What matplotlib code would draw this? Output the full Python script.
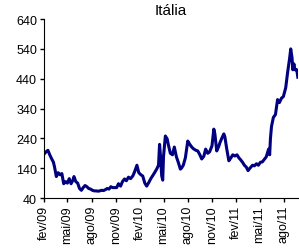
import matplotlib
matplotlib.use("Agg")
import matplotlib.pyplot as plt
import pandas as pd

plt.rcParams['font.family'] = ['Liberation Sans', 'DejaVu Sans']

# Itália - spread (pontos base), leitura aproximada do gráfico
dates = [
    "2009-02-02", "2009-02-09", "2009-02-16", "2009-02-23", "2009-03-02", "2009-03-09",
    "2009-03-13", "2009-03-20", "2009-03-27", "2009-04-03", "2009-04-10", "2009-04-17",
    "2009-04-24", "2009-05-01", "2009-05-08", "2009-05-15", "2009-05-22", "2009-05-26",
    "2009-06-02", "2009-06-09", "2009-06-16", "2009-06-23", "2009-06-30", "2009-07-07",
    "2009-07-14", "2009-07-21", "2009-07-28", "2009-08-04", "2009-08-11", "2009-08-18",
    "2009-08-25", "2009-09-01", "2009-09-08", "2009-09-15", "2009-09-22", "2009-09-29",
    "2009-10-06", "2009-10-13", "2009-10-20", "2009-11-04", "2009-11-11", "2009-11-19",
    "2009-11-26", "2009-12-04", "2009-12-11", "2009-12-19", "2009-12-27", "2010-01-05",
    "2010-01-12", "2010-01-20", "2010-01-27", "2010-02-04", "2010-02-11", "2010-02-19",
    "2010-02-26", "2010-03-06", "2010-03-13", "2010-03-21", "2010-03-28", "2010-04-05",
    "2010-04-12", "2010-04-16", "2010-04-20", "2010-04-24", "2010-04-28", "2010-05-01",
    "2010-05-08", "2010-05-15", "2010-05-19", "2010-05-27", "2010-06-04", "2010-06-11",
    "2010-06-19", "2010-06-26", "2010-07-04", "2010-07-08", "2010-07-15", "2010-07-23",
    "2010-08-01", "2010-08-08", "2010-08-16", "2010-08-23", "2010-09-01", "2010-09-08",
    "2010-09-16", "2010-09-23", "2010-10-01", "2010-10-08", "2010-10-16", "2010-10-23",
    "2010-11-01", "2010-11-08", "2010-11-12", "2010-11-19", "2010-11-27", "2010-12-01",
    "2010-12-08", "2010-12-16", "2010-12-20", "2010-12-27", "2011-01-04", "2011-01-12",
    "2011-01-19", "2011-01-27", "2011-02-04", "2011-02-11", "2011-02-18", "2011-02-25",
    "2011-03-04", "2011-03-11", "2011-03-18", "2011-03-25", "2011-04-04", "2011-04-11",
    "2011-04-19", "2011-04-26", "2011-05-04", "2011-05-11", "2011-05-19", "2011-05-26",
    "2011-06-04", "2011-06-08", "2011-06-11", "2011-06-15", "2011-06-22", "2011-06-30",
    "2011-07-08", "2011-07-15", "2011-07-23", "2011-07-30", "2011-08-08", "2011-08-15",
    "2011-08-23", "2011-08-27", "2011-09-01", "2011-09-04", "2011-09-08", "2011-09-12",
    "2011-09-19", "2011-09-23",
]
spread = [
    188, 195, 200, 185, 172, 160,
    145, 112, 125, 118, 122, 88,
    95, 90, 105, 88, 100, 112,
    95, 90, 72, 66, 75, 82,
    78, 72, 70, 66, 64, 64,
    63, 64, 66, 65, 68, 72,
    70, 78, 75, 75, 88, 80,
    95, 104, 98, 110, 105, 115,
    130, 150, 125, 118, 114, 90,
    80, 92, 104, 115, 125, 137,
    150, 220, 175, 115, 100, 180,
    248, 238, 220, 190, 185, 211,
    178, 160, 137, 140, 150, 175,
    231, 221, 211, 205, 200, 198,
    185, 171, 180, 204, 190, 195,
    215, 271, 255, 198, 214, 225,
    240, 255, 245, 205, 165, 175,
    185, 181, 185, 175, 168, 160,
    150, 144, 132, 140, 150, 148,
    155, 150, 160, 161, 170, 178,
    204, 185, 240, 280, 310, 320,
    370, 360, 375, 380, 410, 460,
    510, 540, 510, 470, 490, 470,
    470, 445,
]
tick_dates = ["2009-02-01", "2009-05-01", "2009-08-01", "2009-11-01", "2010-02-01",
              "2010-05-01", "2010-08-01", "2010-11-01", "2011-02-01", "2011-05-01",
              "2011-08-01"]
tick_labels = ["fev/09", "mai/09", "ago/09", "nov/09", "fev/10", "mai/10",
               "ago/10", "nov/10", "fev/11", "mai/11", "ago/11"]
y_ticks = [40, 140, 240, 340, 440, 540, 640]

x = pd.to_datetime(dates)

fig = plt.figure(figsize=(2.99, 2.51), dpi=100)
ax = fig.add_axes([0.147, 0.207, 0.85, 0.713])
ax.plot(x, spread, color='#000080', linewidth=2.2)

ax.set_title('Itália', fontsize=11, pad=4)
ax.set_ylim(40, 640)
ax.set_yticks(y_ticks)
ax.set_xlim(pd.Timestamp("2009-02-01"), pd.Timestamp("2011-09-24"))
ax.set_xticks(pd.to_datetime(tick_dates))
ax.set_xticklabels(tick_labels, rotation=90)
ax.tick_params(labelsize=9, length=3, width=1, pad=2)

for s in ['top', 'right']:
    ax.spines[s].set_visible(False)

fig.savefig('out.png', dpi=100)
